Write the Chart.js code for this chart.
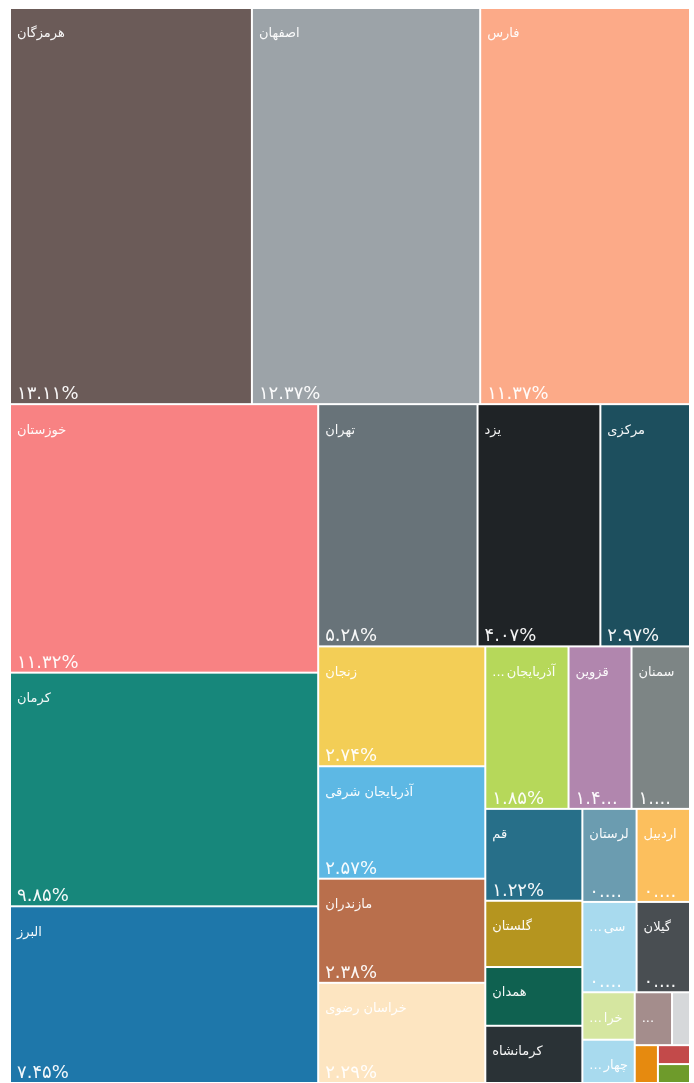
<!DOCTYPE html>
<html lang="fa">
<head>
<meta charset="utf-8">
<script src="https://cdn.jsdelivr.net/npm/chart.js@4.4.1/dist/chart.umd.min.js"></script>
<style>
  html, body { margin: 0; padding: 0; background: #fff; }
  #wrap { width: 694px; height: 1083px; position: relative; }
</style>
</head>
<body>
<div id="wrap"><canvas id="chart"></canvas></div>
<script>
// provinces, sorted by share (percent of total)
const provinces = [
  "هرمزگان", "اصفهان", "فارس",
  "خوزستان", "کرمان", "البرز",
  "تهران", "یزد", "مرکزی",
  "زنجان", "آذربایجان شرقی", "مازندران", "خراسان رضوی",
  "آذربایجان غربی", "قزوین", "سمنان",
  "قم", "گلستان", "همدان", "کرمانشاه",
  "لرستان", "اردبیل", "سیستان و بلوچستان", "گیلان",
  "خراسان شمالی", "چهارمحال و بختیاری", "کردستان", "کهگیلویه و بویراحمد",
  "ایلام", "خراسان جنوبی", "بوشهر"
];
const shares = [
  13.11, 12.37, 11.37,
  11.32, 9.85, 7.45,
  5.28, 4.07, 2.97,
  2.74, 2.57, 2.38, 2.29,
  1.85, 1.40, 1.30,
  1.22, 0.88, 0.78, 0.76,
  0.69, 0.68, 0.67, 0.66,
  0.34, 0.31, 0.27, 0.13,
  0.12, 0.083, 0.083
];
const colors = [
  "#6b5b58", "#9ca3a8", "#fcaa88",
  "#f88283", "#17877b", "#1e77aa",
  "#687379", "#1f2326", "#1d4f5e",
  "#f3ce56", "#5db8e4", "#b96f4c", "#fde5c1",
  "#b6d85a", "#b186ae", "#7d8585",
  "#276f89", "#b5951f", "#0f6150", "#2a3236",
  "#6b9cb0", "#fcbf5d", "#a8daee", "#494e52",
  "#d5e6a0", "#a8daee", "#a48d8c", "#d6d8da",
  "#e68a0f", "#c34a4a", "#6e9b2b"
];

const PHI = (1 + Math.sqrt(5)) / 2;
const faDigits = "۰۱۲۳۴۵۶۷۸۹";
const DOTS = "...";

function toFa(str) {
  return str.replace(/[0-9]/g, d => faDigits[+d]);
}

// squarified layout (same rule as d3.treemapSquarify), in data units
function squarify(values, x0, y0, x1, y1, ratio) {
  const out = [];
  const n = values.length;
  let value = values.reduce((a, b) => a + b, 0);
  let i0 = 0, i1 = 0;
  while (i0 < n) {
    const dx = x1 - x0, dy = y1 - y0;
    let sumValue = values[i1++];
    let minV = sumValue, maxV = sumValue;
    const alpha = Math.max(dy / dx, dx / dy) / (value * ratio);
    let beta = sumValue * sumValue * alpha;
    let minRatio = Math.max(maxV / beta, beta / minV);
    for (; i1 < n; ++i1) {
      const v = values[i1];
      sumValue += v;
      if (v < minV) minV = v;
      if (v > maxV) maxV = v;
      beta = sumValue * sumValue * alpha;
      const newRatio = Math.max(maxV / beta, beta / minV);
      if (newRatio > minRatio) { sumValue -= v; break; }
      minRatio = newRatio;
    }
    if (dx < dy) {
      const h = dy * sumValue / value;
      let x = x0;
      for (let i = i0; i < i1; i++) {
        const w = dx * values[i] / sumValue;
        out.push({ i, x0: x, y0: y0, x1: x + w, y1: y0 + h });
        x += w;
      }
      y0 += h;
    } else {
      const w = dx * sumValue / value;
      let y = y0;
      for (let i = i0; i < i1; i++) {
        const h = dy * values[i] / sumValue;
        out.push({ i, x0: x0, y0: y, x1: x0 + w, y1: y + h });
        y += h;
      }
      x0 += w;
    }
    value -= sumValue;
    i0 = i1;
  }
  return out;
}

// draw a label cut to maxW; for rtl text the dots go on the left
function drawFitted(ctx, text, x, y, maxW, rtl) {
  if (ctx.measureText(text).width <= maxW) { ctx.fillText(text, x, y); return; }
  const dw = ctx.measureText(DOTS).width;
  let t = text;
  while (t.length > 1) {
    t = t.slice(0, -1).trim();
    const tw = ctx.measureText(t).width;
    if (t.length >= 2 && tw + dw + 2 <= maxW) {
      if (rtl) {
        ctx.fillText(DOTS, x, y);
        ctx.fillText(t, x + dw + 2, y);
      } else {
        ctx.fillText(t + DOTS, x, y);
      }
      return;
    }
  }
  if (dw <= maxW) ctx.fillText(DOTS, x, y);
}

const treemapPlugin = {
  id: "treemap",
  afterDatasetsDraw(chart) {
    const { ctx, scales: { x, y } } = chart;
    const total = shares.reduce((a, b) => a + b, 0);
    const cells = squarify(shares, x.min, y.min, x.max, y.max, PHI);
    ctx.save();
    cells.forEach(c => {
      const left = x.getPixelForValue(c.x0) + 1;
      const right = x.getPixelForValue(c.x1) - 1;
      const top = y.getPixelForValue(c.y0) + 1;
      const bottom = y.getPixelForValue(c.y1) - 1;
      const w = right - left, h = bottom - top;
      ctx.fillStyle = colors[c.i];
      ctx.fillRect(left, top, w, h);

      const pad = 6;
      ctx.fillStyle = "rgba(255,255,255,0.95)";
      ctx.textAlign = "left";
      if (h >= 36 && w >= 22) {
        ctx.font = '13px "DejaVu Sans"';
        ctx.direction = "rtl";
        ctx.textBaseline = "middle";
        drawFitted(ctx, provinces[c.i], left + pad, top + 25, w - pad - 3, true);
      }
      if (h >= 75 && w >= 22) {
        ctx.font = '18px "DejaVu Sans"';
        ctx.direction = "ltr";
        ctx.textBaseline = "alphabetic";
        const pct = toFa((shares[c.i] / total * 100).toFixed(2)) + "%";
        drawFitted(ctx, pct, left + pad, bottom - 4, w - 2 * pad - 1, false);
      }
    });
    ctx.restore();
  }
};

new Chart(document.getElementById("chart"), {
  type: "scatter",
  data: { datasets: [{ data: [], pointRadius: 0 }] },
  options: {
    responsive: true,
    maintainAspectRatio: false,
    animation: false,
    layout: { padding: { top: 8, left: 10, right: 4, bottom: 0 } },
    scales: {
      // layout units: the treemap is squarified in this 86 x 100 space
      x: { type: "linear", min: 0, max: 86, display: false },
      y: { type: "linear", min: 0, max: 100, reverse: true, display: false }
    },
    plugins: { legend: { display: false }, tooltip: { enabled: false } }
  },
  plugins: [treemapPlugin]
});
</script>
</body>
</html>
